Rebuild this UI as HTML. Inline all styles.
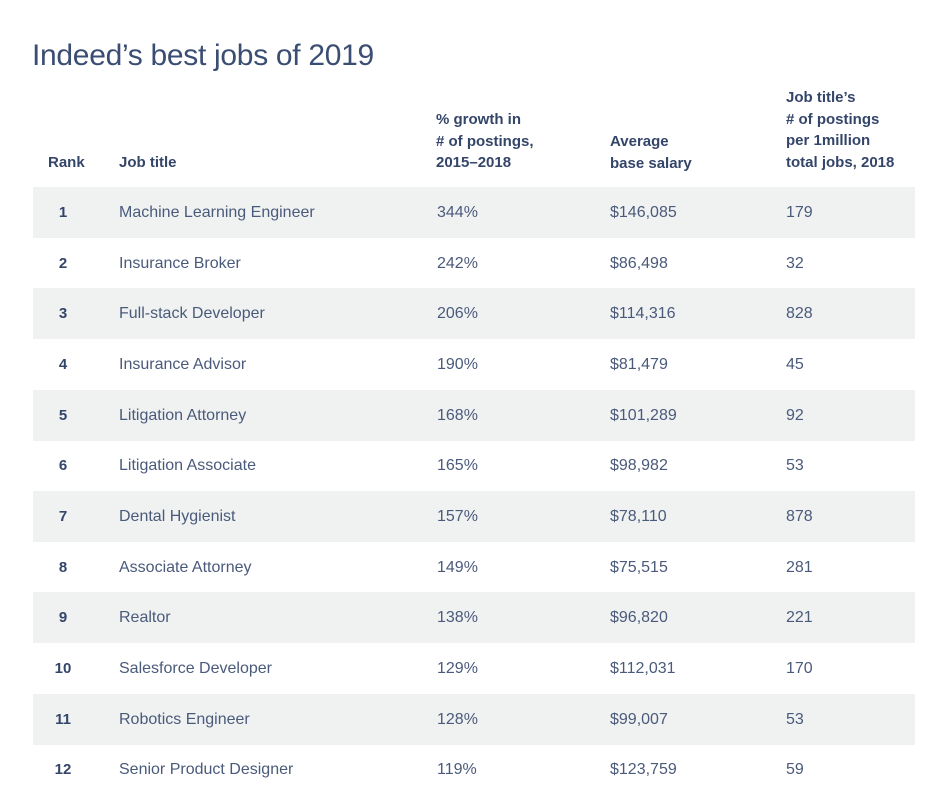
<!DOCTYPE html>
<html><head><meta charset="utf-8"><style>
body{margin:0;width:951px;height:797px;background:#fff;font-family:"Liberation Sans",sans-serif;color:#36466a;position:relative;overflow:hidden}
.t{position:absolute;left:32px;top:39px;font-size:30px;color:#3a4d72;letter-spacing:-0.3px}
.h{position:absolute;font-weight:bold;font-size:15px;line-height:21.5px;color:#34456a}
.row{position:absolute;left:33px;width:882px;height:51px}
.row.g{background:#f0f2f2}
.c{position:absolute;top:0;line-height:52px;font-size:16px;color:#4a5a7a}
.rk{font-weight:bold;color:#34456a;width:40px;text-align:center;left:10px;font-size:15px}
</style></head><body>
<div class="t">Indeed’s best jobs of 2019</div>
<div class="h" style="left:48px;top:152px">Rank</div>
<div class="h" style="left:119px;top:152px">Job title</div>
<div class="h" style="left:436px;top:109px">% growth in<br># of postings,<br>2015–2018</div>
<div class="h" style="left:610px;top:131px">Average<br>base salary</div>
<div class="h" style="left:786px;top:87px">Job title’s<br># of postings<br>per 1million<br>total jobs, 2018</div>
<div id="rows"></div>
<script>
const titles=["Machine Learning Engineer","Insurance Broker","Full-stack Developer","Insurance Advisor","Litigation Attorney","Litigation Associate","Dental Hygienist","Associate Attorney","Realtor","Salesforce Developer","Robotics Engineer","Senior Product Designer"];
const growth=["344%","242%","206%","190%","168%","165%","157%","149%","138%","129%","128%","119%"];
const salary=["$146,085","$86,498","$114,316","$81,479","$101,289","$98,982","$78,110","$75,515","$96,820","$112,031","$99,007","$123,759"];
const postings=["179","32","828","45","92","53","878","281","221","170","53","59"];
const host=document.getElementById('rows');
titles.forEach((t,i)=>{
  const r=document.createElement('div');
  r.className='row'+(i%2===0?' g':'');
  r.style.top=(187+i*50.67)+'px';
  
  
  const cells=[[String(i+1),'rk',null],[t,'',86],[growth[i],'',404],[salary[i],'',577],[postings[i],'',753]];
  cells.forEach(([txt,cls,x])=>{
    const c=document.createElement('div');
    c.className='c '+cls;
    if(x!==null)c.style.left=x+'px';
    c.textContent=txt;
    
    
    r.appendChild(c);
  });
  host.appendChild(r);
});
</script>
</body></html>
